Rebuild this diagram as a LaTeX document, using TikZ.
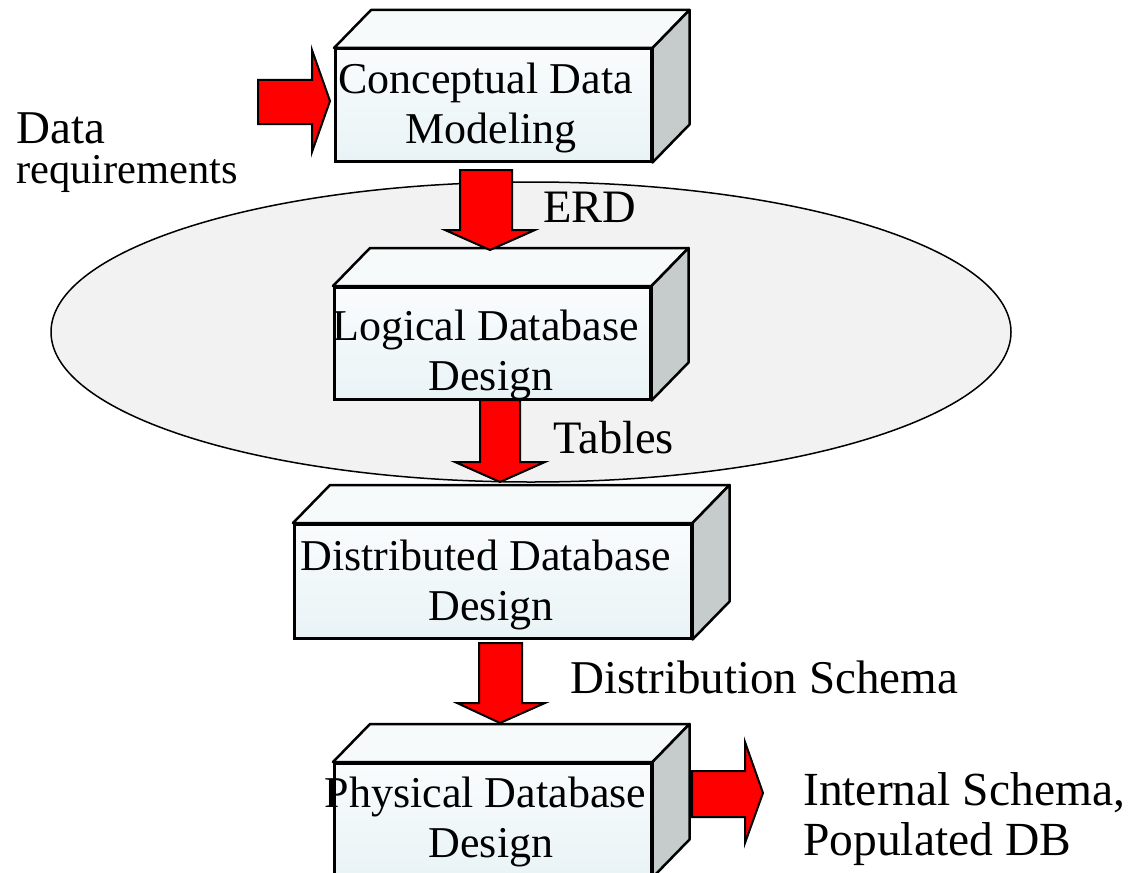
\documentclass[tikz,border=0pt]{standalone}
\usepackage{fontspec}
\setmainfont{Liberation Serif}
\usetikzlibrary{calc,shapes.geometric}
\definecolor{arrowred}{HTML}{FF0000}
\definecolor{boxtop}{HTML}{F9FCFD}
\definecolor{boxbot}{HTML}{E9F3F6}
\definecolor{facetop}{HTML}{F7FAFB}
\definecolor{faceside}{HTML}{C6CCCC}
\definecolor{ellfill}{HTML}{F2F2F2}
\newcommand\dbcube[5]{%
  \node[front, minimum width=#4pt, minimum height=#5pt] (#1) at (#2,#3) {};
  \draw[topface] (#1.north west) -- ++(37,-38) -- ($(#1.north east)+(37,-38)$) -- (#1.north east) -- cycle;
  \draw[sideface] (#1.north east) -- ++(37,-38) -- ($(#1.south east)+(37,-38)$) -- (#1.south east) -- cycle;
}
\begin{document}
\begin{tikzpicture}[x=1pt,y=-1pt,
  front/.style={draw=black, line width=2.5pt, top color=boxtop, bottom color=boxbot, inner sep=0pt, anchor=north west},
  topface/.style={draw=black, line width=2.5pt, fill=facetop, line join=round},
  sideface/.style={draw=black, line width=2.5pt, fill=faceside, line join=round},
  barrow/.style={draw=black, line width=2pt, fill=arrowred, line join=miter},
  boxtext/.style={font=\fontsize{44}{50}\selectfont, align=center, inner sep=0pt, anchor=base},
  lbl/.style={font=\fontsize{46.5}{50}\selectfont, inner sep=0pt, anchor=base west},
  ell/.style={draw=black, line width=1.5pt, fill=ellfill}]
\useasboundingbox (0,0) rectangle (1131,872);
\clip (0,0) rectangle (1131,872);
\fill[white] (0,0) rectangle (1131,872);
% ellipse
\node[ell, ellipse, minimum width=960pt, minimum height=300pt, inner sep=0pt] (ell) at (531,332) {};
% boxes
\dbcube{c}{334}{48}{316}{112}
\dbcube{l}{333}{286}{316}{112}
\dbcube{d}{293}{523}{397}{114}
\dbcube{p}{333}{762}{317}{113}
% box texts (base = baseline of last line)
\node[boxtext] (ct) at (491,143) {Conceptual Data\hspace*{0.25em}\\Modeling};
\node[boxtext] (lt) at (491,390) {Logical Database\hspace*{0.25em}\\Design};
\node[boxtext] (dt) at (491,620) {Distributed Database\hspace*{0.25em}\\Design};
\node[boxtext] (pt) at (491,857) {Physical Database\hspace*{0.25em}\\Design};
% block arrows
\coordinate (inTip) at (330,101);
\draw[barrow] (258,80) -- (312,80) -- (312,50) -- (inTip) -- (312,152) -- (312,124) -- (258,124) -- cycle;
\coordinate (erdTip) at (490,250);
\draw[barrow] (460,170) -- (512,170) -- (512,230) -- (535,230) -- (erdTip) -- (445,230) -- (460,230) -- cycle;
\coordinate (tabTip) at (500,482);
\draw[barrow] (480,400) -- (520,400) -- (520,462) -- (545,462) -- (tabTip) -- (455,462) -- (480,462) -- cycle;
\coordinate (disTip) at (500,723);
\draw[barrow] (479,643) -- (522,643) -- (522,703) -- (545,703) -- (disTip) -- (457,703) -- (479,703) -- cycle;
\coordinate (outTip) at (763,793);
\draw[barrow] (692,771) -- (745,771) -- (745,742) -- (outTip) -- (745,843) -- (745,817) -- (692,817) -- cycle;
% labels
\node[lbl, font=\fontsize{47}{50}\selectfont] (data) at (16,143) {Data};
\node[lbl, font=\fontsize{42.5}{50}\selectfont] (req) at (16,183) {requirements};
\node[lbl] (erd) at (543,222) {ERD};
\node[lbl] (tab) at (553,453) {Tables};
\node[lbl, font=\fontsize{47}{50}\selectfont] (dis) at (570,693) {Distribution Schema};
\node[lbl, font=\fontsize{47.5}{50}\selectfont, align=left] (int) at (803,855) {Internal Schema,\\Populated DB};
\end{tikzpicture}
\end{document}
